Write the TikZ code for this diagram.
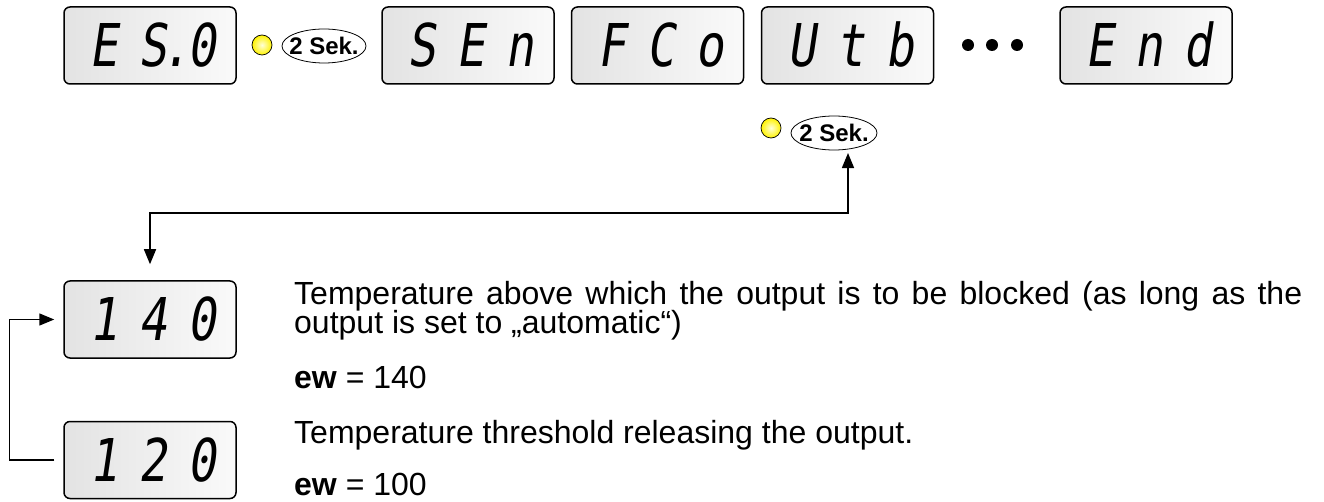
\documentclass[tikz,border=0pt]{standalone}
\usepackage{fontspec}
\setmainfont{Liberation Sans}
\newfontfamily\segfont[FakeSlant=0.15,FakeStretch=0.8]{DejaVu Sans Mono}
\usetikzlibrary{arrows.meta,shapes.geometric}
\newcommand\segcell[1]{\makebox[49pt]{#1}}
\newcommand\segthree[3]{\hspace{6pt}\segcell{#1}\segcell{#2}\segcell{#3}}
\tikzset{
  disp/.style={draw=black, line width=1.5pt, rounded corners=6pt,
    left color=black!11, right color=black!2,
    minimum width=172pt, minimum height=77pt, inner sep=0pt,
    text height=43pt, text depth=0pt,
    font=\segfont\fontsize{59}{59}\selectfont},
  led/.style={circle, draw=black, line width=0.7pt, minimum size=20pt, inner sep=0pt,
    inner color=yellow!15!white, outer color=yellow!90!orange},
  sek/.style={inner sep=0pt, font=\bfseries\fontsize{24}{24}\selectfont},
  sekring/.style={draw=black, line width=0.8pt},
  bullet/.style={circle, fill=black, minimum size=12pt, inner sep=0pt},
  conn/.style={line width=1.5pt},
  tip/.style={-{Triangle[length=15pt,width=12pt]}},
  body/.style={anchor=base west, inner sep=0pt, font=\fontsize{32}{34}\selectfont}
}
\begin{document}
\begin{tikzpicture}[x=1pt,y=-1pt]
\useasboundingbox (0,0) rectangle (1324,502);
% top row
\node[disp] (es0) at (150,45.5) {\segthree{E}{S\rlap{\kern-6pt.}}{0}};
\node[led] (led1) at (262,45) {};
\node[sek] (sek1) at (324,46) {2 Sek.};
\draw[sekring] (sek1.center) ellipse [x radius=42, y radius=17];
\node[disp] (sen) at (468,45.5) {\segthree{S}{E}{n}};
\node[disp] (fco) at (657.5,45.5) {\segthree{F}{C}{o}};
\node[disp] (utb) at (847.5,45.5) {\segthree{U}{t}{b}};
\node[bullet] (d1) at (968,45) {};
\node[bullet] (d2) at (992,45) {};
\node[bullet] (d3) at (1017,45) {};
\node[disp] (end) at (1146,45.5) {\segthree{E}{n}{d}};
% second LED
\node[led] (led2) at (771,128) {};
\node[sek] (sek2) at (834,133) {2 Sek.};
\draw[sekring] (sek2.center) ellipse [x radius=43, y radius=17];
% value displays
\node[disp] (v140) at (150,319.5) {\segthree{1}{4}{0}};
\node[disp] (v120) at (150,460) {\segthree{1}{2}{0}};
% connectors
\coordinate (turn) at (848,213);
\draw[conn, {Triangle[length=15pt,width=12pt]}-{Triangle[length=15pt,width=12pt]},
  shorten <=16pt, shorten >=11pt]
  (v140.north) |- (turn) -- (turn |- sek2.south);
\draw[conn, tip, shorten <=9pt, shorten >=9pt]
  (v120.west) -- ++(-54,0) |- (v140.west);
% texts
\node[body] (t1) at (294,305) {\makebox[1008pt][s]{Temperature above which the output is to be blocked (as long as the}};
\node[body] (t2) at (294,334) {output is set to „automatic“)};
\node[body] (t3) at (294,388) {\textbf{ew} = 140};
\node[body] (t4) at (294,443) {Temperature threshold releasing the output.};
\node[body] (t5) at (294,495) {\textbf{ew} = 100};
\end{tikzpicture}
\end{document}
